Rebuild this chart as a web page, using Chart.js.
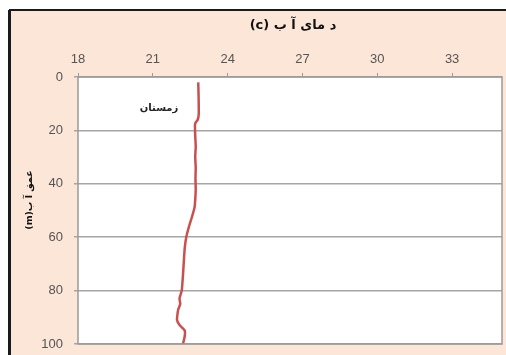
<!DOCTYPE html>
<html>
<head>
<meta charset="utf-8">
<script src="https://cdn.jsdelivr.net/npm/chart.js@4/dist/chart.umd.min.js"></script>
<style>
  html, body { margin: 0; padding: 0; background: #ffffff; }
  canvas { display: block; }
</style>
</head>
<body>
<canvas id="c" width="506" height="355"></canvas>
<script>
// Winter water-temperature profile: depth (m) against temperature (°C)
const depths = [2, 5, 10, 14, 16, 17, 18, 22, 26, 30, 34, 38, 42, 46, 49, 53, 56, 60, 64, 68, 74, 78, 80, 83, 85, 87, 88, 91, 93, 95, 97, 100];
const temps  = [22.82, 22.83, 22.84, 22.84, 22.80, 22.72, 22.69, 22.70, 22.72, 22.70, 22.72, 22.71, 22.72, 22.70, 22.67, 22.55, 22.45, 22.34, 22.28, 22.25, 22.21, 22.18, 22.16, 22.07, 22.10, 22.02, 22.00, 21.97, 22.08, 22.28, 22.28, 22.21];
const tempTicks = [18, 21, 24, 27, 30, 33];
const depthTicks = [0, 20, 40, 60, 80, 100];
const seriesName = 'زمستان';
const xTitle = 'د مای آ ب (c)';
const yTitle = 'عمق آ ب(m)';

const points = depths.map((d, i) => ({ x: temps[i], y: d }));

// Page frame, peach panel, white plot area, border and right-to-left titles
const framePlugin = {
  id: 'frame',
  beforeDraw(chart) {
    const { ctx, width, height, chartArea: a } = chart;
    ctx.save();
    ctx.fillStyle = '#ffffff';
    ctx.fillRect(0, 0, width, height);
    ctx.fillStyle = '#fce6d8';
    ctx.fillRect(9, 10, width - 9, height - 10);
    ctx.fillStyle = '#ffffff';
    ctx.fillRect(a.left, a.top, a.right - a.left, a.bottom - a.top);
    ctx.strokeStyle = '#1a1a1a';
    ctx.lineWidth = 3;
    ctx.beginPath();
    ctx.moveTo(9.5, height);
    ctx.lineTo(9.5, 10);
    ctx.stroke();
    ctx.lineWidth = 2;
    ctx.beginPath();
    ctx.moveTo(9, 10);
    ctx.lineTo(width, 10);
    ctx.stroke();
    ctx.restore();
  },
  afterDatasetsDraw(chart) {
    const { ctx, chartArea: a, scales } = chart;
    ctx.save();
    ctx.strokeStyle = '#9a9a9a';
    ctx.lineWidth = 1.5;
    ctx.strokeRect(a.left, a.top, a.right - a.left, a.bottom - a.top);
    ctx.direction = 'rtl';
    ctx.textAlign = 'center';
    ctx.textBaseline = 'middle';
    // series label inside the plot
    ctx.fillStyle = '#222222';
    ctx.font = 'bold 10px "DejaVu Sans", "Liberation Sans", sans-serif';
    ctx.fillText(seriesName, scales.x.getPixelForValue(21.25), scales.y.getPixelForValue(11.6));
    // temperature axis title
    ctx.fillStyle = '#111111';
    ctx.font = 'bold 13px "DejaVu Sans", "Liberation Sans", sans-serif';
    ctx.fillText(xTitle, (a.left + a.right) / 2 + 3, 26);
    // depth axis title
    ctx.font = 'bold 9.5px "DejaVu Sans", "Liberation Sans", sans-serif';
    ctx.translate(30, 200);
    ctx.rotate(-Math.PI / 2);
    ctx.fillText(yTitle, 0, 0);
    ctx.restore();
  }
};

new Chart(document.getElementById('c'), {
  type: 'scatter',
  data: {
    datasets: [{
      label: seriesName,
      data: points,
      showLine: true,
      borderColor: '#c8504e',
      backgroundColor: '#c8504e',
      borderWidth: 2.5,
      pointRadius: 0,
      tension: 0.2
    }]
  },
  options: {
    responsive: false,
    animation: false,
    devicePixelRatio: 1,
    layout: { padding: { left: 0, top: 0, right: 4, bottom: 11 } },
    plugins: {
      legend: { display: false },
      tooltip: { enabled: false }
    },
    scales: {
      x: {
        type: 'linear',
        position: 'top',
        min: 18,
        max: 35,
        afterBuildTicks(scale) { scale.ticks = tempTicks.map(v => ({ value: v })); },
        afterFit(scale) {
          scale.height = 77;
          scale.paddingLeft = scale.paddingRight = scale.paddingTop = scale.paddingBottom = 0;
        },
        ticks: {
          padding: 6,
          color: '#555555',
          font: { family: '"Liberation Sans", Arial, sans-serif', size: 13 }
        },
        grid: { drawOnChartArea: false, drawTicks: true, tickLength: 4, color: '#9a9a9a', lineWidth: 1 },
        border: { display: false }
      },
      y: {
        type: 'linear',
        reverse: true,
        min: 0,
        max: 100,
        afterBuildTicks(scale) { scale.ticks = depthTicks.map(v => ({ value: v })); },
        afterFit(scale) {
          scale.width = 78;
          scale.paddingLeft = scale.paddingRight = scale.paddingTop = scale.paddingBottom = 0;
        },
        ticks: {
          padding: 11,
          color: '#555555',
          font: { family: '"Liberation Sans", Arial, sans-serif', size: 13 }
        },
        grid: { drawTicks: true, tickLength: 4, color: '#a6a6a6', lineWidth: 1.5 },
        border: { display: false }
      }
    }
  },
  plugins: [framePlugin]
});
</script>
</body>
</html>
